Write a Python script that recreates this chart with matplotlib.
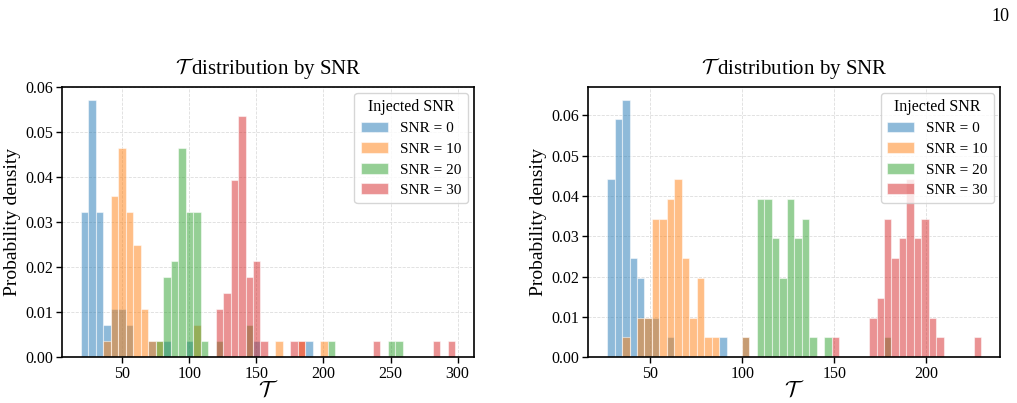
import numpy as np
import matplotlib.pyplot as plt
from matplotlib.ticker import MultipleLocator, FormatStrFormatter

plt.rcParams['font.family'] = 'serif'
plt.rcParams['font.serif'] = ['Liberation Serif', 'DejaVu Serif']
plt.rcParams['mathtext.fontset'] = 'cm'

# samples per SNR level, number of bins
n_samples = 50
n_bins = 50

# histogram ranges (min / max of T) for each panel
left_range = (19.0, 298.25)
right_range = (26.4, 229.9)

snr_labels = ["SNR = 0", "SNR = 10", "SNR = 20", "SNR = 30"]
colors = ["#1f77b4", "#ff7f0e", "#2ca02c", "#d62728"]

# counts per bin (50 bins), left panel
left_snr0 = [9, 16, 9, 2, 3, 3, 2, 0, 0, 1, 0, 1, 0, 0, 1, 0, 0, 0, 0, 0,
             0, 0, 0, 1, 0, 0, 0, 0, 0, 0, 1, 0, 0, 0, 0, 0, 0, 0, 0, 0,
             0, 0, 0, 0, 0, 0, 0, 0, 0, 0]
left_snr10 = [0, 0, 0, 1, 10, 13, 9, 7, 3, 1, 1, 0, 0, 0, 0, 2, 0, 0, 0, 0,
              0, 0, 0, 0, 0, 0, 1, 0, 0, 1, 0, 0, 1, 0, 0, 0, 0, 0, 0, 0,
              0, 0, 0, 0, 0, 0, 0, 0, 0, 0]
left_snr20 = [0, 0, 0, 0, 0, 0, 0, 0, 0, 0, 1, 5, 6, 13, 9, 9, 1, 0, 1, 0,
              0, 0, 2, 0, 0, 0, 0, 0, 0, 0, 0, 0, 0, 1, 0, 0, 0, 0, 0, 0,
              0, 1, 1, 0, 0, 0, 0, 0, 0, 0]
left_snr30 = [0, 0, 0, 0, 0, 0, 0, 0, 0, 0, 0, 0, 0, 0, 0, 0, 0, 0, 3, 4,
              11, 15, 5, 6, 1, 0, 0, 0, 1, 1, 0, 0, 0, 0, 0, 0, 0, 0, 0, 1,
              0, 0, 0, 0, 0, 0, 0, 1, 0, 1]

# counts per bin (50 bins), right panel
right_snr0 = [9, 12, 13, 5, 4, 2, 2, 0, 1, 0, 0, 0, 0, 0, 0, 1, 0, 0, 1, 0,
              0, 0, 0, 0, 0, 0, 0, 0, 0, 0, 0, 0, 0, 0, 0, 0, 0, 0, 0, 0,
              0, 0, 0, 0, 0, 0, 0, 0, 0, 0]
right_snr10 = [0, 0, 1, 0, 2, 2, 7, 7, 8, 9, 5, 2, 4, 1, 1, 0, 0, 0, 1, 0,
               0, 0, 0, 0, 0, 0, 0, 0, 0, 0, 0, 0, 0, 0, 0, 0, 0, 0, 0, 0,
               0, 0, 0, 0, 0, 0, 0, 0, 0, 0]
right_snr20 = [0, 0, 0, 0, 0, 0, 0, 0, 0, 0, 0, 0, 0, 0, 0, 0, 0, 0, 0, 0,
               8, 8, 6, 4, 8, 6, 7, 1, 0, 1, 0, 0, 0, 0, 0, 0, 0, 1, 0, 0,
               0, 0, 0, 0, 0, 0, 0, 0, 0, 0]
right_snr30 = [0, 0, 0, 0, 0, 0, 0, 0, 0, 0, 0, 0, 0, 0, 0, 0, 0, 0, 0, 0,
               0, 0, 0, 0, 0, 0, 0, 0, 0, 0, 1, 0, 0, 0, 0, 2, 3, 7, 5, 6,
               9, 6, 7, 2, 1, 0, 0, 0, 0, 1]


def draw_panel(ax, t_range, series):
    edges = np.linspace(t_range[0], t_range[1], n_bins + 1)
    width = edges[1] - edges[0]
    centers = edges[:-1] + width / 2
    for counts, label, color in zip(series, snr_labels, colors):
        density = np.array(counts) / (n_samples * width)
        ax.hist(centers, bins=edges, weights=density, color=color, alpha=0.5,
                edgecolor='white', linewidth=0.8, label=label)

    ax.set_title(r"$\mathcal{T}$ distribution by SNR", fontsize=15, pad=9)
    ax.set_xlabel(r"$\mathcal{T}$", fontsize=16, labelpad=-1)
    ax.set_ylabel("Probability density", fontsize=14, labelpad=3)
    ax.xaxis.set_major_locator(MultipleLocator(50))
    ax.yaxis.set_major_locator(MultipleLocator(0.01))
    ax.yaxis.set_major_formatter(FormatStrFormatter('%.2f'))
    ax.tick_params(labelsize=11.5, direction='out', length=4, width=1,
                   pad=2.5)
    ax.grid(True, linestyle='--', linewidth=0.6, color='#dddddd')
    ax.set_axisbelow(True)
    for sp in ax.spines.values():
        sp.set_linewidth(1.2)
    ax.legend(title="Injected SNR", loc="upper right", fontsize=11,
              title_fontsize=11.5, handlelength=1.8, labelspacing=0.45,
              borderaxespad=0.4)


fig = plt.figure(figsize=(10.17, 4.03), dpi=100)
ax1 = fig.add_axes([0.061, 0.1134, 0.405, 0.6716])
ax2 = fig.add_axes([0.5785, 0.1134, 0.4048, 0.6716])

draw_panel(ax1, left_range, [left_snr0, left_snr10, left_snr20, left_snr30])
draw_panel(ax2, right_range, [right_snr0, right_snr10, right_snr20, right_snr30])

fig.text(0.993, 0.958, "10", ha='right', va='center', fontsize=13)

fig.savefig("out.png", dpi=100)
